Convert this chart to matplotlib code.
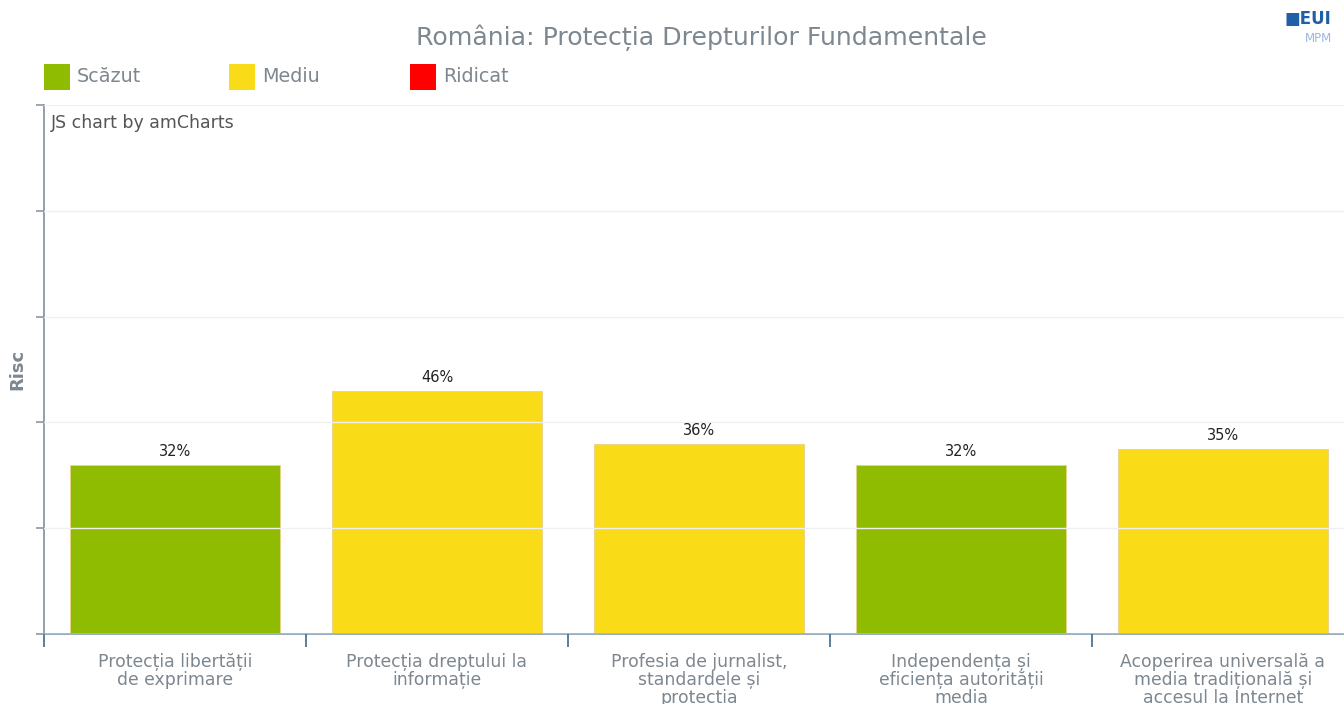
import matplotlib
matplotlib.use("Agg")
import matplotlib.pyplot as plt
from matplotlib.patches import Rectangle

categories = [
    "Protecția libertății\nde exprimare",
    "Protecția dreptului la\ninformație",
    "Profesia de jurnalist,\nstandardele și\nprotecția",
    "Independența și\neficiența autorității\nmedia",
    "Acoperirea universală a\nmedia tradițională și\naccesul la Internet",
]
values = [32, 46, 36, 32, 35]
risk_levels = ["Scăzut", "Mediu", "Mediu", "Scăzut", "Mediu"]
legend_labels = ["Scăzut", "Mediu", "Ridicat"]
title = "România: Protecția Drepturilor Fundamentale"

level_colors = {"Scăzut": "#8fbc00", "Mediu": "#fadb17", "Ridicat": "#ff0000"}
text_gray = "#7d8790"

W, H = 1344, 704
fig = plt.figure(figsize=(W / 100, H / 100), dpi=100)
fig.patch.set_facecolor("white")

left, right, top, bottom = 44, 1354, 105, 634
ax = fig.add_axes([left / W, 1 - bottom / H, (right - left) / W, (bottom - top) / H])
ax.set_facecolor("white")

x = list(range(len(categories)))
colors = [level_colors[r] for r in risk_levels]
ax.bar(x, values, width=0.8, color=colors, edgecolor="#ead08a", linewidth=0.6, zorder=2)

ax.set_xlim(-0.5, len(categories) - 0.5)
ax.set_ylim(0, 100)

# grid over bars (light)
ax.set_yticks([0, 20, 40, 60, 80, 100])
ax.yaxis.grid(True, color="#f0f0f0", linewidth=1.0, zorder=3)
ax.set_axisbelow(False)
ax.set_yticklabels([])
ax.tick_params(axis="y", length=6, color="#8a97a6", width=1.2)

# x axis ticks at category boundaries
ax.set_xticks([i - 0.5 for i in range(len(categories) + 1)])
ax.set_xticklabels([])
ax.tick_params(axis="x", length=9, direction="out", color="#3d6a8a", width=1.2)

for s in ["top", "right"]:
    ax.spines[s].set_visible(False)
ax.spines["left"].set_color("#8a97a6")
ax.spines["left"].set_linewidth(1.3)
ax.spines["bottom"].set_color("#8fa6bb")
ax.spines["bottom"].set_linewidth(1.3)

for i, (c, v) in enumerate(zip(categories, values)):
    ax.annotate(f"{v}%", (i, v), xytext=(0, 4), textcoords="offset points",
                ha="center", va="bottom", fontsize=10.5, color="#222222", zorder=5)
    ax.annotate(c, (i, 0), xytext=(0, -14), textcoords="offset points",
                ha="center", va="top", fontsize=12.4, color=text_gray,
                linespacing=1.0, annotation_clip=False)

ax.text(0.005, 0.983, "JS chart by amCharts", transform=ax.transAxes,
        ha="left", va="top", fontsize=12.5, color="#555555")

fig.text(17 / W, 1 - 369 / H, "Risc", rotation=90, ha="center", va="center",
         fontsize=13, fontweight="bold", color="#7d8790")

fig.text(701 / W, 1 - 38 / H, title, ha="center", va="center",
         fontsize=18.2, color=text_gray)

# legend
leg_x = [44, 229, 410]
for lx, lab in zip(leg_x, legend_labels):
    fig.patches.append(Rectangle((lx / W, 1 - 90 / H), 26 / W, 26 / H,
                                 transform=fig.transFigure, facecolor=level_colors[lab],
                                 edgecolor="none"))
    fig.text((lx + 33) / W, 1 - 77 / H, lab, ha="left", va="center",
             fontsize=13.8, color=text_gray)

# logo
fig.text(1284 / W, 1 - 19 / H, "\u25A0EUI", ha="left", va="center", fontsize=12,
         fontweight="bold", color="#1f5fa8")
fig.text(1305 / W, 1 - 38 / H, "MPM", ha="left", va="center", fontsize=8.5,
         color="#9ab8e0")

fig.savefig("out.png", dpi=100, facecolor="white")
